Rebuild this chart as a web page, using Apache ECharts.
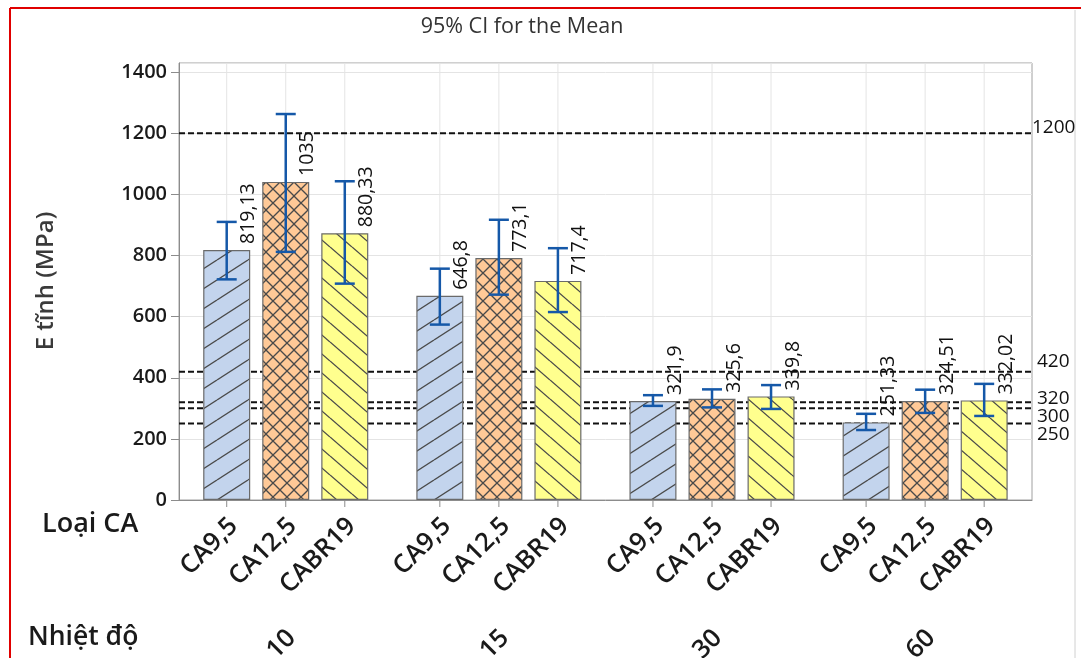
<!DOCTYPE html>
<html><head><meta charset="utf-8">
<script src="https://cdn.jsdelivr.net/npm/echarts@6/dist/echarts.min.js"></script>
<style>html,body{margin:0;padding:0;background:#fff}#c{width:1081px;height:658px}</style>
</head><body><div id="c"></div>
<script>
// ---------- data ----------
const groups = ['10', '15', '30', '60'];
const types = ['CA9,5', 'CA12,5', 'CABR19'];
const meanCA95   = [818, 668, 324, 254];
const meanCA125  = [1041, 792, 331, 324];
const meanCABR19 = [873, 717, 339, 326];
const upperCA95   = [910, 757, 343, 282];
const lowerCA95   = [722, 574, 308, 229];
const upperCA125  = [1263, 917, 362, 361];
const lowerCA125  = [812, 672, 303, 285];
const upperCABR19 = [1043, 824, 376, 380];
const lowerCABR19 = [708, 615, 298, 275];
const labelCA95   = ['819,13', '646,8', '321,9', '251,33'];
const labelCA125  = ['1035', '773,1', '325,6', '324,51'];
const labelCABR19 = ['880,33', '717,4', '339,8', '332,02'];
const refLines = [1200, 420, 320, 300, 250];
const yTicks = [0, 200, 400, 600, 800, 1000, 1200, 1400];

// ---------- layout / style ----------
const STRIDE = 3.61;          // group spacing in bar slots
const Y_MAX = 1430, X_MIN = -0.808, X_MAX = 13.64;
const FONT = 'Open Sans';
const means = [meanCA95, meanCA125, meanCABR19];
const uppers = [upperCA95, upperCA125, upperCABR19];
const lowers = [lowerCA95, lowerCA125, lowerCABR19];
const labels = [labelCA95, labelCA125, labelCABR19];
const fills = ['#c3d4ed', '#ffc997', '#ffff8e'];
const refLabelShift = {1200: -6, 420: -10, 320: -4, 300: 8, 250: 11};

function pattern(kind, bg) {
  let w, h;
  if (kind === 'fwd') { w = 31; h = 20; }
  else if (kind === 'back') { w = 22; h = 19; }
  else { w = 14; h = 14; }
  const c = document.createElement('canvas');
  c.width = w; c.height = h;
  const g = c.getContext('2d');
  g.fillStyle = bg; g.fillRect(0, 0, w, h);
  g.strokeStyle = '#4a4a4a'; g.lineWidth = 1.3;
  const fwd = () => { for (let k = -1; k <= 1; k++) { g.beginPath(); g.moveTo(0, h + k * h); g.lineTo(w, k * h); g.stroke(); } };
  const back = () => { for (let k = -1; k <= 1; k++) { g.beginPath(); g.moveTo(0, k * h); g.lineTo(w, h + k * h); g.stroke(); } };
  if (kind === 'fwd') fwd();
  else if (kind === 'back') back();
  else { fwd(); back(); }
  return { image: c, repeat: 'repeat' };
}
const pats = [pattern('fwd', fills[0]), pattern('cross', fills[1]), pattern('back', fills[2])];

const pos = (g, t) => g * STRIDE + t;
const allItems = [];
groups.forEach((gName, g) => types.forEach((tName, t) => {
  allItems.push([pos(g, t), means[t][g], lowers[t][g], uppers[t][g], t, g]);
}));

const barSeries = types.map((tName, t) => ({
  name: tName, type: 'bar', z: 3,
  barWidth: 47, barGap: '-100%',
  data: groups.map((gName, g) => [pos(g, t), means[t][g]]),
  itemStyle: { color: pats[t], borderColor: '#6a6a6a', borderWidth: 1.2 },
  silent: true
}));

const option = {
  animation: false,
  backgroundColor: '#fff',
  grid: { left: 179, right: 49, top: 63, bottom: 158, show: true, borderColor: '#a0a0a0', borderWidth: 1 },
  xAxis: {
    type: 'value', min: X_MIN, max: X_MAX,
    axisLine: { show: true, onZero: false, lineStyle: { color: '#8c8c8c' } },
    axisTick: { show: false }, axisLabel: { show: false }, splitLine: { show: false }
  },
  yAxis: {
    type: 'value', min: 0, max: Y_MAX, interval: 200,
    axisLine: { show: true, onZero: false, lineStyle: { color: '#8c8c8c' } },
    axisTick: { show: true, length: 8, lineStyle: { color: '#8c8c8c' } },
    axisLabel: { margin: 12, fontSize: 20, fontWeight: 600, color: '#1a1a1a', fontFamily: FONT,
                 showMaxLabel: false,
                 formatter: v => (yTicks.indexOf(v) >= 0 ? String(v) : '') },
    splitLine: { show: true, lineStyle: { color: '#e4e4e4' } }
  },
  graphic: [
    { type: 'text', x: 522, y: 27, style: { text: '95% CI for the Mean', fontSize: 21.5, fill: '#333', fontFamily: FONT, align: 'center', verticalAlign: 'middle' } },
    { type: 'text', x: 46, y: 281, rotation: Math.PI / 2,
      style: { text: 'E tĩnh (MPa)', fontSize: 24, fontWeight: 600, fill: '#3a3a3a', fontFamily: FONT, align: 'center', verticalAlign: 'middle' } },
    { type: 'text', x: 42, y: 524, style: { text: 'Loại CA', fontSize: 27, fontWeight: 600, fill: '#1a1a1a', fontFamily: FONT, align: 'left', verticalAlign: 'middle' } },
    { type: 'text', x: 28, y: 637, style: { text: 'Nhiệt độ', fontSize: 26.5, fontWeight: 600, fill: '#1a1a1a', fontFamily: FONT, align: 'left', verticalAlign: 'middle' } },
    { type: 'line', shape: { x1: 10, y1: 8, x2: 1081, y2: 8 }, style: { stroke: '#e00000', lineWidth: 2 } },
    { type: 'line', shape: { x1: 10, y1: 8, x2: 10, y2: 658 }, style: { stroke: '#e00000', lineWidth: 2 } },
    { type: 'line', shape: { x1: 1075, y1: 10, x2: 1075, y2: 658 }, style: { stroke: '#d0d0d0', lineWidth: 1 } }
  ],
  series: [
    { // vertical grid lines at bar centres
      type: 'custom', z: 1, silent: true, clip: false,
      data: allItems.map(d => [d[0], 0]),
      renderItem: (p, api) => {
        const a = api.coord([api.value(0), 0]), b = api.coord([api.value(0), Y_MAX]);
        return { type: 'line', shape: { x1: a[0], y1: a[1], x2: b[0], y2: b[1] }, style: { stroke: '#e4e4e4', lineWidth: 1 } };
      }
    },
    { // reference lines + labels
      type: 'custom', z: 2, silent: true, clip: false,
      data: refLines.map(v => [X_MAX, v]),
      renderItem: (p, api) => {
        const v = api.value(1);
        const a = api.coord([X_MIN, v]), b = api.coord([X_MAX, v]);
        return { type: 'group', children: [
          { type: 'line', shape: { x1: a[0], y1: a[1], x2: b[0], y2: b[1] }, style: { stroke: '#111', lineWidth: 2, lineDash: [6, 3] } },
          { type: 'text', x: b[0] + (v === 1200 ? 0 : 5), y: b[1] + (refLabelShift[v] || 0),
            style: { text: String(v), fontSize: 19, fill: '#111', fontFamily: FONT, align: 'left', verticalAlign: 'middle' } }
        ] };
      }
    },
    ...barSeries,
    { // error bars, value labels, category labels
      type: 'custom', z: 5, silent: true, clip: false,
      data: allItems,
      renderItem: (p, api) => {
        const x = api.value(0), m = api.value(1), lo = api.value(2), hi = api.value(3);
        const t = api.value(4), g = api.value(5);
        const top = api.coord([x, m]), pl = api.coord([x, lo]), ph = api.coord([x, hi]), base = api.coord([x, 0]);
        const cx = top[0], cap = 10;
        const blue = '#1558a8';
        const kids = [
          { type: 'line', shape: { x1: cx, y1: pl[1], x2: cx, y2: ph[1] }, style: { stroke: blue, lineWidth: 2.5 } },
          { type: 'line', shape: { x1: cx - cap, y1: pl[1], x2: cx + cap, y2: pl[1] }, style: { stroke: blue, lineWidth: 2.5 } },
          { type: 'line', shape: { x1: cx - cap, y1: ph[1], x2: cx + cap, y2: ph[1] }, style: { stroke: blue, lineWidth: 2.5 } },
          { type: 'text', x: cx + 22, y: top[1] - 6, rotation: Math.PI / 2,
            style: { text: labels[t][g], fontSize: 19.5, fill: '#111', fontFamily: FONT, align: 'left', verticalAlign: 'middle' } },
          { type: 'line', shape: { x1: cx, y1: base[1] + 1, x2: cx, y2: base[1] + 7 }, style: { stroke: '#8c8c8c', lineWidth: 1 } },
          { type: 'text', x: cx + 7, y: base[1] + 22, rotation: Math.PI / 4,
            style: { text: types[t], fontSize: 25.5, fontWeight: 600, fill: '#1a1a1a', fontFamily: FONT, align: 'right', verticalAlign: 'middle' } }
        ];
        if (t === 1) {
          kids.push({ type: 'text', x: cx + 6, y: base[1] + 134, rotation: Math.PI / 4,
            style: { text: groups[g], fontSize: 25.5, fontWeight: 600, fill: '#1a1a1a', fontFamily: FONT, align: 'right', verticalAlign: 'middle' } });
        }
        return { type: 'group', children: kids };
      }
    }
  ]
};
const chart = echarts.init(document.getElementById('c'), null, { renderer: 'canvas' });
chart.setOption(option);
</script>
</body></html>
